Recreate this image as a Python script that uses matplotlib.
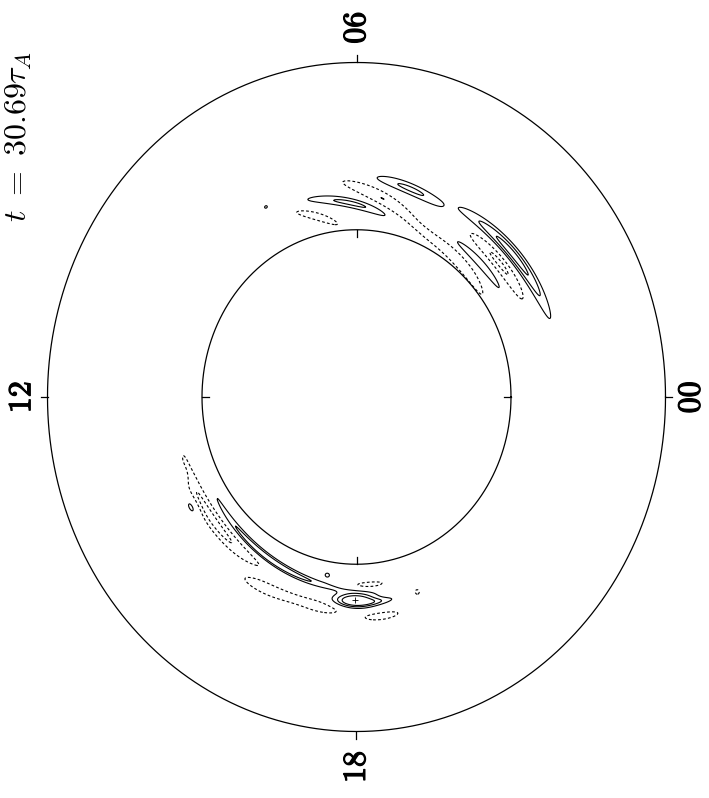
import numpy as np
import matplotlib.pyplot as plt
import matplotlib.patheffects as pe

plt.rcParams['mathtext.fontset'] = 'cm'

# Perturbation structures in the annulus, one entry per feature:
# MLT centre (h), half-span in MLT (h), radius at centre, radial drift per hour,
# radial half-width, peak amplitude (negative -> dashed contours)
feat_mlt = [2.67, 2.73, 3.04, 3.40,
            4.97, 5.47, 6.12, 6.87, 7.82,
            15.98, 17.97, 18.35, 14.52, 14.11, 13.49,
            16.38, 16.57, 17.35, 18.48, 18.27, 17.33, 19.24]
feat_span = [1.30, 0.82, 0.70, 0.93,
             0.65, 0.80, 0.88, 0.42, 0.03,
             1.75, 0.50, 0.30, 1.37, 0.12, 0.08,
             0.62, 0.36, 0.30, 0.30, 0.30, 0.05, 0.05]
feat_r = [0.662, 0.612, 0.566, 0.525,
          0.646, 0.600, 0.580, 0.553, 0.639,
          0.560, 0.608, 0.615, 0.592, 0.626, 0.611,
          0.638, 0.612, 0.640, 0.660, 0.563, 0.541, 0.615]
feat_drift = [-0.005, 0.0, 0.0, 0.016,
              0.0186, 0.055, 0.035, 0.075, 0.0,
              0.0095, 0.0, 0.0, 0.003, 0.0, 0.0,
              -0.021, 0.0, 0.0, 0.0, 0.0, 0.0, 0.0]
feat_width = [0.022, 0.020, 0.012, 0.018,
              0.016, 0.020, 0.014, 0.012, 0.004,
              0.012, 0.026, 0.006, 0.022, 0.010, 0.008,
              0.018, 0.007, 0.012, 0.010, 0.008, 0.006, 0.008]
feat_amp = [3.5, -2.2, 1.8, -1.8,
            2.2, -2.0, 2.3, -1.4, 1.3,
            3.0, 4.5, 1.4, -2.4, 1.3, 1.2,
            -1.8, 1.4, -1.4, -1.4, -1.3, 1.2, -1.2]

contour_levels = [-3, -2, -1, 1, 2, 3]
hour_ticks = [0, 6, 12, 18]
hour_labels = ['00', '06', '12', '18']
r_inner, r_outer = 0.5, 1.0
title = r'$t\ =\ 30.69\tau_A$'

# field on the polar plane
x = np.linspace(-1, 1, 1000)
X, Y = np.meshgrid(x, x)
R = np.hypot(X, Y)
H = (np.degrees(np.arctan2(Y, X)) / 15.0) % 24.0

F = np.zeros_like(X)
for hc, dh, rc, dr, w, a in zip(feat_mlt, feat_span, feat_r, feat_drift, feat_width, feat_amp):
    dtheta = (H - hc + 12.0) % 24.0 - 12.0
    q = (dtheta / dh) ** 2 + ((R - (rc + dr * dtheta)) / w) ** 2
    F += np.sign(a) * np.exp(np.log(abs(a)) * (1.0 - q))

fig = plt.figure(figsize=(7.09, 7.98), dpi=100)
ax = fig.add_axes([47.5 / 709, (798 - 731.5) / 798, 618 / 709, 669 / 798])
ax.set_xlim(-1, 1)
ax.set_ylim(-1, 1)
ax.axis('off')

styles = [(0, (2.5, 2.0)) if lv < 0 else 'solid' for lv in contour_levels]
ax.contour(X, Y, F, levels=contour_levels, colors='k', linewidths=0.8, linestyles=styles)

# vortex centre
vi = int(np.argmax(feat_amp))
vang = np.radians(feat_mlt[vi] * 15)
ax.plot(feat_r[vi] * np.cos(vang), feat_r[vi] * np.sin(vang), '+', color='k', ms=4, mew=0.6)

# boundary circles
t = np.linspace(0, 2 * np.pi, 721)
for rr in (r_inner, r_outer):
    ax.plot(rr * np.cos(t), rr * np.sin(t), color='k', lw=0.9, clip_on=False)

# ticks: outward on outer circle, inward on inner circle
tick_len = 0.022
bold = [pe.withStroke(linewidth=0.9, foreground='k')]
for h, lab in zip(hour_ticks, hour_labels):
    ang = np.radians(h * 15)
    c, s = np.cos(ang), np.sin(ang)
    ax.plot([r_outer * c, (r_outer + tick_len) * c], [r_outer * s, (r_outer + tick_len) * s],
            color='k', lw=0.9, clip_on=False)
    ax.plot([r_inner * c, (r_inner - tick_len) * c], [r_inner * s, (r_inner - tick_len) * s],
            color='k', lw=0.9, clip_on=False)
    ax.text(1.083 * c, 1.105 * s, r'$\mathbf{%s}$' % lab, rotation=90, fontsize=23,
            ha='center', va='center', clip_on=False, path_effects=bold)

fig.text(19 / 709, 1 - 136 / 798, title, rotation=90, fontsize=23, ha='center', va='center')

fig.savefig('out.png', dpi=100)
